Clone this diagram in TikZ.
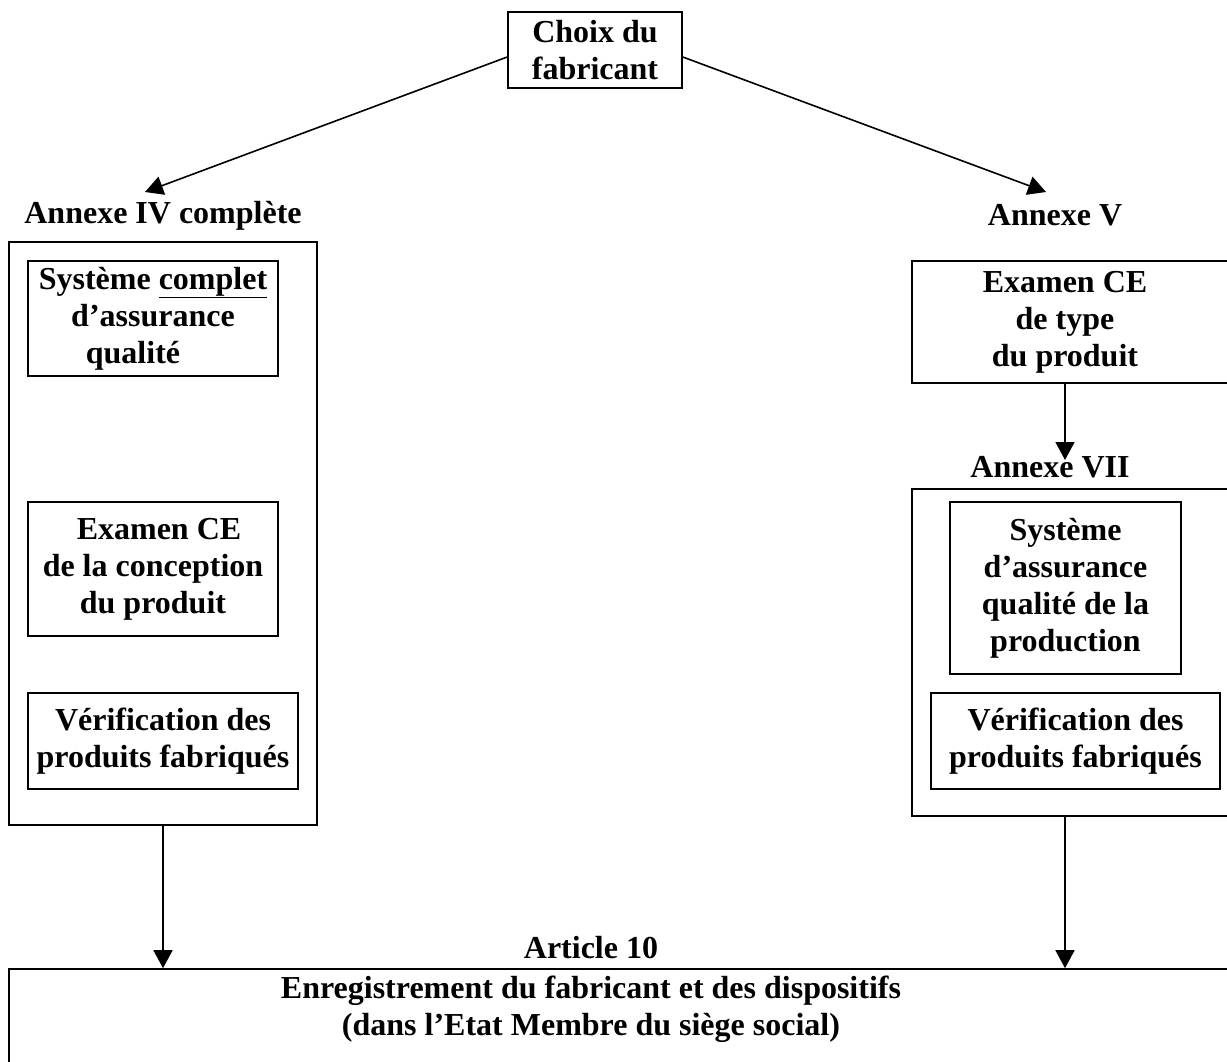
\documentclass[tikz,border=0pt]{standalone}
\usepackage{fontspec}
\setmainfont{Liberation Serif}
\usetikzlibrary{arrows.meta}
\begin{document}
\begin{tikzpicture}[x=1pt,y=-1pt,
  every node/.style={font=\bfseries\fontsize{32}{37}\selectfont, inner sep=0pt},
  box/.style={draw, line width=1.6pt, align=center},
  lbl/.style={align=center},
  conn/.style={line width=1.6pt, -{Triangle[length=18pt,width=19pt]}}]
  \useasboundingbox (0,0) rectangle (1227,1061);

  % top choice
  \node[box, minimum width=174pt, minimum height=76pt] (top) at (595,50) {Choix du\\fabricant};

  % left branch: Annexe IV
  \node[lbl] (anxIV) at (163,216) {Annexe IV complète};
  \node[box, minimum width=308pt, minimum height=583pt] (louter) at (163,533.5) {};
  \node[box, minimum width=250pt, minimum height=115pt] (lqa) at (153,318.5)
    {Système \underline{complet}\\d’assurance\\qualité\hspace*{40pt}};
  \node[box, minimum width=250pt, minimum height=134pt] (lce) at (153,569)
    {\hspace*{12pt}Examen CE\\de la conception\\du produit};
  \node[box, minimum width=270pt, minimum height=96pt] (lver) at (163,741)
    {Vérification des\\produits fabriqués};

  % right branch: Annexe V then Annexe VII
  \node[lbl] (anxV) at (1055,215) {Annexe V};
  \node[box, minimum width=330pt, minimum height=122pt] (rce) at (1077,322) {};
  \node[lbl] (rcetxt) at (1065,322) {Examen CE\\de type\\du produit};
  \coordinate (tipVII) at (1065,460);
  \node[lbl] (anxVII) at (1050,467) {Annexe VII};
  \node[box, minimum width=330pt, minimum height=327pt] (router) at (1077,652.5) {};
  \node[box, minimum width=231pt, minimum height=172pt] (rqa) at (1065.5,588)
    {Système\\d’assurance\\qualité de la\\production};
  \node[box, minimum width=289pt, minimum height=96pt] (rver) at (1075.5,741)
    {Vérification des\\produits fabriqués};

  % registration (Article 10)
  \node[lbl] (art) at (591,948) {Article 10};
  \node[box, minimum width=1231pt, minimum height=120pt] (reg) at (624.5,1029) {};
  \node[lbl] (regtxt) at (591,1009)
    {Enregistrement du fabricant et des dispositifs\\(dans l’Etat Membre du siège social)};

  % connectors
  \coordinate (tipL) at (145,192);
  \coordinate (tipR) at (1046,192);
  \draw[conn] ([yshift=-7pt]top.west) -- (tipL);
  \draw[conn] ([yshift=-7pt]top.east) -- (tipR);
  \draw[conn] (rcetxt |- rce.south) -- (tipVII);
  \draw[conn] (louter.south) -- (louter.south |- reg.north);
  \draw[conn] (rcetxt |- router.south) -- (rcetxt |- reg.north);
\end{tikzpicture}
\end{document}
